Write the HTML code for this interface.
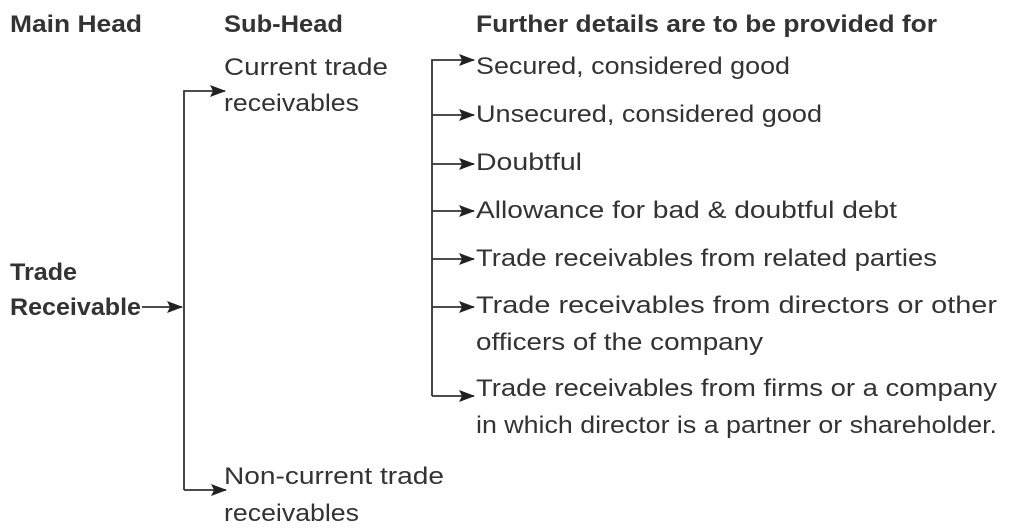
<!DOCTYPE html>
<html><head><meta charset="utf-8"><style>
html,body{margin:0;padding:0;background:#fff;}
svg{display:block;}
text{font-family:"Liberation Sans",sans-serif;font-size:24px;fill:#333;}
.b{font-weight:bold;}
</style></head><body>
<svg width="1024" height="531" viewBox="0 0 1024 531" xmlns="http://www.w3.org/2000/svg">
<defs><marker id="a" markerWidth="16" markerHeight="12" refX="15" refY="6" orient="auto" markerUnits="userSpaceOnUse"><path d="M0,0 L16,6 L0,12 L3,6 z" fill="#222"/></marker></defs>
<g stroke="#333" stroke-width="1.8" fill="none">
<path d="M142,307 H182" marker-end="url(#a)"/>
<path d="M184,490 V91 H225" marker-end="url(#a)"/>
<path d="M184,490 H226" marker-end="url(#a)"/>
<path d="M432,396 V60 H474" marker-end="url(#a)"/>
<path d="M432,115 H474" marker-end="url(#a)"/>
<path d="M432,164 H474" marker-end="url(#a)"/>
<path d="M432,211 H474" marker-end="url(#a)"/>
<path d="M432,259 H474" marker-end="url(#a)"/>
<path d="M432,307 H474" marker-end="url(#a)"/>
<path d="M432,396 H474" marker-end="url(#a)"/>
</g>
<g>
<text class="b" x="10" y="32" textLength="132" lengthAdjust="spacingAndGlyphs">Main Head</text>
<text class="b" x="224" y="32" textLength="119" lengthAdjust="spacingAndGlyphs">Sub-Head</text>
<text class="b" x="476" y="32" textLength="461" lengthAdjust="spacingAndGlyphs">Further details are to be provided for</text>
<text class="b" x="10" y="280" textLength="67" lengthAdjust="spacingAndGlyphs">Trade</text>
<text class="b" x="10" y="315" textLength="131" lengthAdjust="spacingAndGlyphs">Receivable</text>
<text x="224" y="75" textLength="164" lengthAdjust="spacingAndGlyphs">Current trade</text>
<text x="224" y="111" textLength="135" lengthAdjust="spacingAndGlyphs">receivables</text>
<text x="224" y="484" textLength="220" lengthAdjust="spacingAndGlyphs">Non-current trade</text>
<text x="224" y="521" textLength="135" lengthAdjust="spacingAndGlyphs">receivables</text>
<text x="476" y="74" textLength="314" lengthAdjust="spacingAndGlyphs">Secured, considered good</text>
<text x="476" y="122" textLength="346" lengthAdjust="spacingAndGlyphs">Unsecured, considered good</text>
<text x="476" y="170" textLength="106" lengthAdjust="spacingAndGlyphs">Doubtful</text>
<text x="476" y="218" textLength="421" lengthAdjust="spacingAndGlyphs">Allowance for bad &amp; doubtful debt</text>
<text x="476" y="266" textLength="461" lengthAdjust="spacingAndGlyphs">Trade receivables from related parties</text>
<text x="476" y="313" textLength="521" lengthAdjust="spacingAndGlyphs">Trade receivables from directors or other</text>
<text x="476" y="350" textLength="287" lengthAdjust="spacingAndGlyphs">officers of the company</text>
<text x="476" y="396" textLength="521" lengthAdjust="spacingAndGlyphs">Trade receivables from firms or a company</text>
<text x="476" y="433" textLength="521" lengthAdjust="spacingAndGlyphs">in which director is a partner or shareholder.</text>
</g>
</svg>
</body></html>
